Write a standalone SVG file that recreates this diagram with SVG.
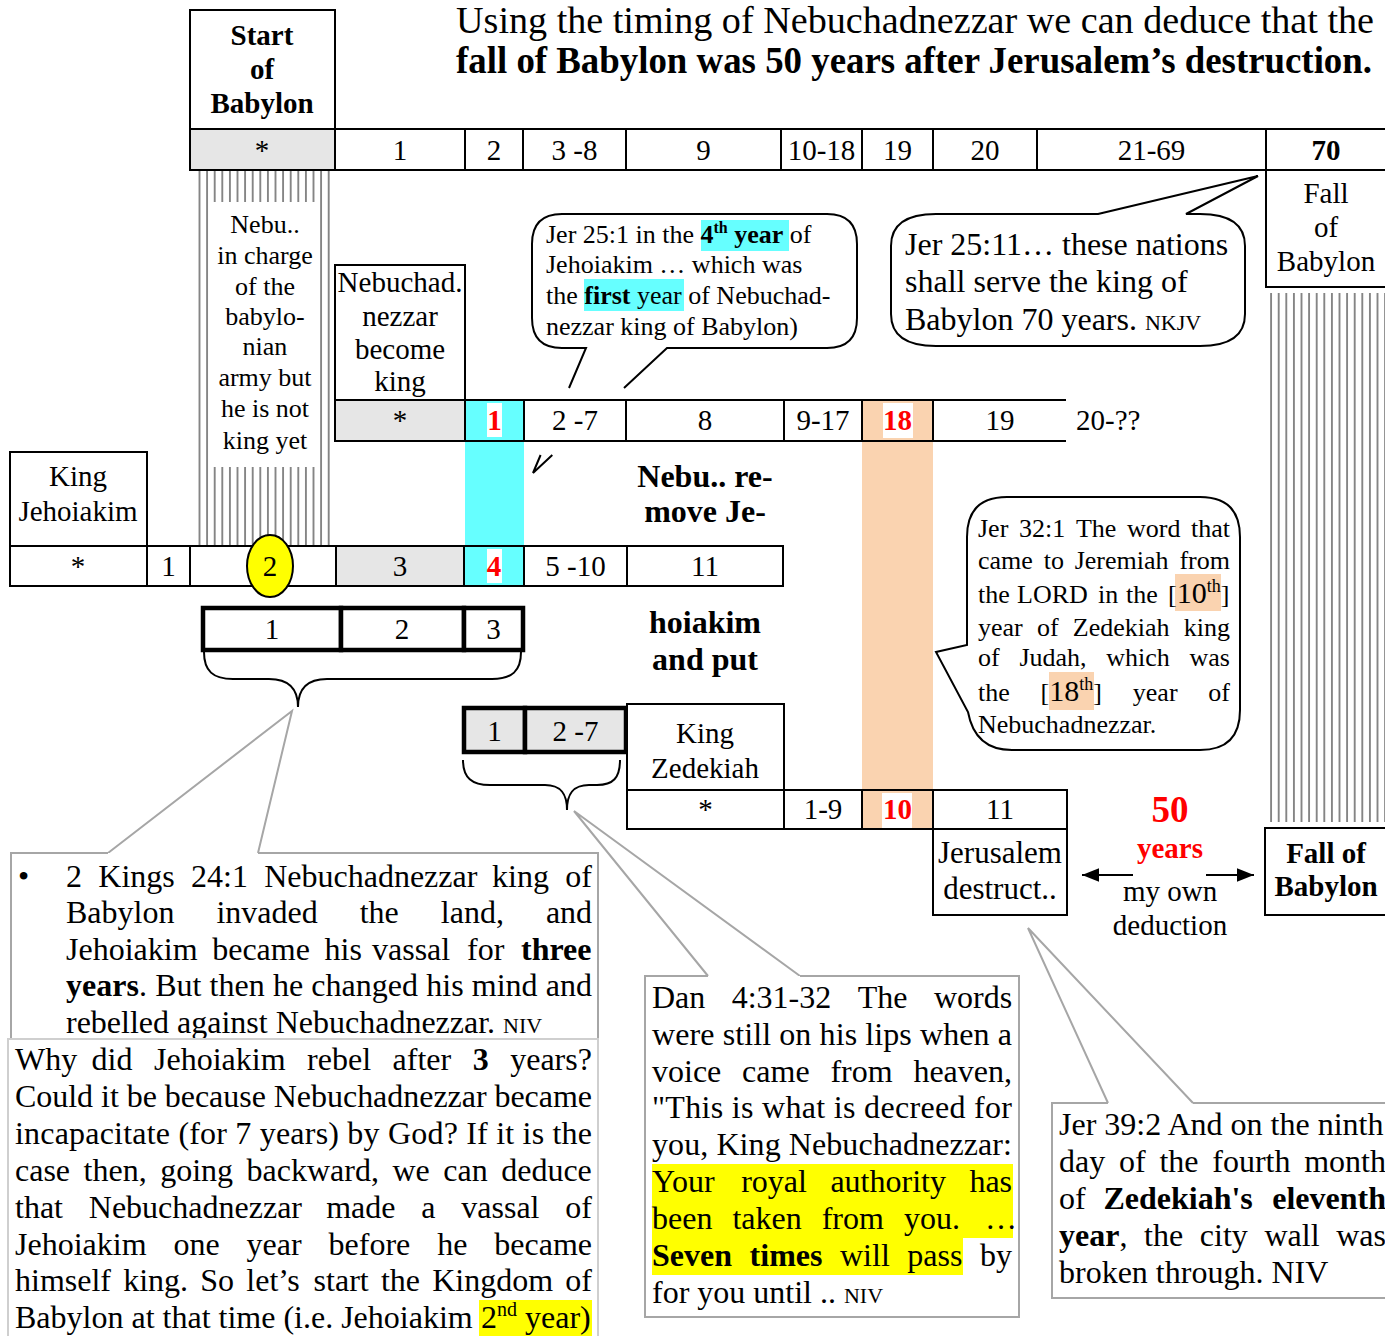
<svg xmlns="http://www.w3.org/2000/svg" width="1385" height="1336" viewBox="0 0 1385 1336">
<defs>
<style>
text{font-family:"Liberation Serif","Times New Roman",serif;fill:#000}
.c{text-anchor:middle}
.n{font-size:29px}
.b{font-weight:bold}
.red{fill:#ff0000;font-weight:bold}
.cell{fill:#fff;stroke:#000;stroke-width:2}
.gray{fill:#e6e6e6;stroke:#000;stroke-width:2}
.cy{fill:#66ffff;stroke:#000;stroke-width:2}
.pe{fill:#fad3b0;stroke:#000;stroke-width:2}
.thick{fill:#fff;stroke:#000;stroke-width:4.5}
.thickg{fill:#e6e6e6;stroke:#000;stroke-width:4.5}
.bx{fill:#fff;stroke:#000;stroke-width:2}
.call{fill:#fff;stroke:#000;stroke-width:2}
.note{fill:#fff;stroke:#a6a6a6;stroke-width:2}
.note2{fill:#fff;stroke:#cfcfcf;stroke-width:2}
.ln{fill:none;stroke:#a6a6a6;stroke-width:2}
.k{fill:none;stroke:#000;stroke-width:2}
.body{font-size:32px}
.sm{font-size:26px}
.wbg{fill:#fff}
</style>
<pattern id="stripe" width="7.6" height="10" patternUnits="userSpaceOnUse"><rect x="1" y="0" width="1.8" height="10" fill="#7f7f7f"/></pattern>
<marker id="ah" viewBox="0 0 10 8" refX="10" refY="4" markerWidth="8.5" markerHeight="6.8" orient="auto"><path d="M0,0 L10,4 L0,8 z" fill="#000"/></marker>
</defs>

<!-- header -->
<g id="title">
<text x="456" y="33" font-size="37" textLength="918" lengthAdjust="spacingAndGlyphs">Using the timing of Nebuchadnezzar we can deduce that the</text>
<text x="456" y="73" font-size="37" class="b" textLength="916" lengthAdjust="spacingAndGlyphs">fall of Babylon was 50 years after Jerusalem’s destruction.</text>
</g>

<!-- backgrounds -->
<g id="columns">
<rect x="196" y="171" width="134" height="375" fill="url(#stripe)"/>
<rect x="212" y="202" width="106" height="265" fill="#fff"/>
<rect x="1270" y="293" width="118" height="529" fill="url(#stripe)"/>
<rect x="465" y="400" width="59" height="186" fill="#66ffff"/>
<rect x="862" y="400" width="71" height="429" fill="#fad3b0"/>
</g>

<g id="connectors">
<path class="ln" d="M108,853 L292,711 L258,853"/>
<path class="ln" d="M708,976 L574,811 L800,976"/>
<path class="ln" d="M1108,1103 L1028,928 L1193,1103"/>
<path class="k" d="M204,652 C204,671 213,679 233,679 L269,679 C289,679 298,689 298,707 C298,689 307,679 327,679 L492,679 C512,679 521,671 521,652"/>
<path class="k" d="M463,760 C463,778 472,785 490,785 L545,785 C562,785 567,795 567,810 C567,795 572,785 589,785 L597,785 C613,785 620,778 620,760"/>
<line class="k" x1="1133" y1="875" x2="1082" y2="875" marker-end="url(#ah)"/>
<line class="k" x1="1206" y1="875" x2="1254" y2="875" marker-end="url(#ah)"/>
</g>

<!-- callouts -->
<g id="callout-jer25-1">
<path class="call" d="M569,388 L586,348 L562,348 Q532,348 532,318 L532,244 Q532,214 562,214 L827,214 Q857,214 857,244 L857,318 Q857,348 827,348 L667,348 L624,388"/>
<path class="k" d="M540.6,455 L533,473 L552.3,455"/>
<rect x="701" y="220" width="88" height="31" fill="#66ffff"/>
<rect x="584" y="279" width="100" height="32" fill="#66ffff"/>
<text class="sm" x="546" y="243">Jer 25:1 in the <tspan class="b">4</tspan><tspan class="b" dy="-10" font-size="16">th</tspan><tspan class="b" dy="10"> year</tspan> of</text>
<text class="sm" x="546" y="273">Jehoiakim …  which was</text>
<text class="sm" x="546" y="304">the <tspan class="b">first</tspan> year of Nebuchad-</text>
<text class="sm" x="546" y="335">nezzar king of Babylon)</text>
</g>

<g id="callout-jer25-11">
<path class="call" d="M1098,214 L1258,176 L1186,214 L1200,214 Q1245,214 1245,246 L1245,314 Q1245,346 1200,346 L936,346 Q891,346 891,314 L891,246 Q891,214 936,214 Z"/>
<text class="body" x="905" y="255">Jer 25:11… these nations</text>
<text class="body" x="905" y="292">shall serve the king of</text>
<text class="body" x="905" y="330">Babylon 70 years. <tspan font-size="22">NKJV</tspan></text>
</g>

<g id="callout-jer32-1">
<path class="call" d="M1007,497 Q967,497 967,537 L967,645 L936,652 L968,712 Q975,750 1012,750 L1200,750 Q1240,750 1240,710 L1240,537 Q1240,497 1200,497 Z"/>
<rect x="1175" y="574" width="46" height="37" fill="#fad3b0"/>
<rect x="1049" y="672" width="45" height="38" fill="#fad3b0"/>
<text class="sm" y="537"><tspan x="978">Jer</tspan><tspan x="1019">32:1</tspan><tspan x="1075.9">The</tspan><tspan x="1127">word</tspan><tspan x="1191.1">that</tspan></text>
<text class="sm" y="569"><tspan x="978">came</tspan><tspan x="1043.7">to</tspan><tspan x="1074.7">Jeremiah</tspan><tspan x="1179.4">from</tspan></text>
<text class="sm" y="603"><tspan x="978">the</tspan><tspan x="1017">LORD</tspan><tspan x="1098">in</tspan><tspan x="1126">the</tspan><tspan x="1168">[</tspan><tspan font-size="30">10</tspan><tspan dy="-11" font-size="18">th</tspan><tspan dy="11">]</tspan></text>
<text class="sm" y="636"><tspan x="978">year</tspan><tspan x="1036.9">of</tspan><tspan x="1072.8">Zedekiah</tspan><tspan x="1183.7">king</tspan></text>
<text class="sm" y="666"><tspan x="978">of</tspan><tspan x="1019.4">Judah,</tspan><tspan x="1106.3">which</tspan><tspan x="1189.5">was</tspan></text>
<text class="sm" y="701"><tspan x="978">the</tspan><tspan x="1040.6">[</tspan><tspan font-size="30">18</tspan><tspan dy="-11" font-size="18">th</tspan><tspan dy="11">]</tspan><tspan x="1132.8">year</tspan><tspan x="1208.3">of</tspan></text>
<text class="sm" x="978" y="733">Nebuchadnezzar.</text>
</g>

<!-- Babylon timeline -->
<g id="start-babylon">
<rect class="bx" x="190" y="10" width="145" height="119"/>
<text class="n b c" x="262" y="45">Start</text>
<text class="n b c" x="262" y="79">of</text>
<text class="n b c" x="262" y="113">Babylon</text>
</g>
<g id="babylon-row">
<rect class="gray" x="190" y="129" width="145" height="41"/>
<rect class="cell" x="335" y="129" width="130" height="41"/>
<rect class="cell" x="465" y="129" width="58" height="41"/>
<rect class="cell" x="523" y="129" width="103" height="41"/>
<rect class="cell" x="626" y="129" width="155" height="41"/>
<rect class="cell" x="781" y="129" width="81" height="41"/>
<rect class="cell" x="862" y="129" width="71" height="41"/>
<rect class="cell" x="933" y="129" width="104" height="41"/>
<rect class="cell" x="1037" y="129" width="229" height="41"/>
<rect class="cell" x="1266" y="129" width="126" height="41"/>
<text class="n c" x="262" y="160">*</text>
<text class="n c" x="400" y="160">1</text>
<text class="n c" x="494" y="160">2</text>
<text class="n c" x="574.5" y="160">3 -8</text>
<text class="n c" x="703.5" y="160">9</text>
<text class="n c" x="821.5" y="160">10-18</text>
<text class="n c" x="897.5" y="160">19</text>
<text class="n c" x="985" y="160">20</text>
<text class="n c" x="1151.5" y="160">21-69</text>
<text class="n c b" x="1326" y="160">70</text>
</g>
<g id="fall-babylon-top">
<rect class="bx" x="1266" y="170" width="126" height="117"/>
<text class="n c" x="1326" y="203">Fall</text>
<text class="n c" x="1326" y="237">of</text>
<text class="n c" x="1326" y="271">Babylon</text>
</g>
<g id="nebu-army">
<text class="sm c" x="265" y="233">Nebu..</text>
<text class="sm c" x="265" y="264">in charge</text>
<text class="sm c" x="265" y="295">of the</text>
<text class="sm c" x="265" y="325">babylo-</text>
<text class="sm c" x="265" y="355">nian</text>
<text class="sm c" x="265" y="386">army but</text>
<text class="sm c" x="265" y="417">he is not</text>
<text class="sm c" x="265" y="449">king yet</text>
</g>

<!-- Nebuchadnezzar row -->
<g id="nebu-king">
<rect class="bx" x="335" y="265" width="130" height="135"/>
<text class="n c" x="400" y="292">Nebuchad.</text>
<text class="n c" x="400" y="326">nezzar</text>
<text class="n c" x="400" y="359">become</text>
<text class="n c" x="400" y="391">king</text>
</g>
<g id="nebu-row">
<rect class="gray" x="335" y="400" width="130" height="41"/>
<rect class="cy" x="465" y="400" width="59" height="41"/>
<rect class="cell" x="524" y="400" width="102" height="41"/>
<rect class="cell" x="626" y="400" width="158" height="41"/>
<rect class="cell" x="784" y="400" width="78" height="41"/>
<rect class="pe" x="862" y="400" width="71" height="41"/>
<path class="k" d="M933,400 L1066,400 M933,441 L1066,441"/>
<rect class="wbg" x="487" y="403" width="15" height="34"/>
<rect class="wbg" x="883" y="403" width="30" height="35"/>
<text class="n c" x="400" y="430">*</text>
<text class="n c red" x="494.5" y="430">1</text>
<text class="n c" x="575" y="430">2 -7</text>
<text class="n c" x="705" y="430">8</text>
<text class="n c" x="823" y="430">9-17</text>
<text class="n c red" x="897.5" y="430">18</text>
<text class="n c" x="1000" y="430">19</text>
<text class="n" x="1076" y="430">20-??</text>
</g>

<!-- Jehoiakim row -->
<g id="king-jehoiakim">
<rect class="bx" x="10" y="452" width="137" height="94"/>
<text class="n c" x="78" y="486">King</text>
<text class="n c" x="78" y="521">Jehoiakim</text>
</g>
<g id="jehoiakim-row">
<rect class="cell" x="10" y="546" width="137" height="40"/>
<rect class="cell" x="147" y="546" width="43" height="40"/>
<rect class="cell" x="190" y="546" width="146" height="40"/>
<rect class="gray" x="336" y="546" width="128" height="40"/>
<rect class="cy" x="464" y="546" width="60" height="40"/>
<rect class="cell" x="524" y="546" width="103" height="40"/>
<rect class="cell" x="627" y="546" width="156" height="40"/>
<ellipse cx="270" cy="566" rx="23" ry="31" fill="#ffff00" stroke="#000" stroke-width="2"/>
<rect class="wbg" x="487" y="549" width="15" height="34"/>
<text class="n c" x="78" y="576">*</text>
<text class="n c" x="168.5" y="576">1</text>
<text class="n c" x="270" y="576">2</text>
<text class="n c" x="400" y="576">3</text>
<text class="n c red" x="494" y="576">4</text>
<text class="n c" x="575.5" y="576">5 -10</text>
<text class="n c" x="705" y="576">11</text>
</g>
<g id="vassal-years">
<rect class="thick" x="203" y="608" width="138" height="42"/>
<rect class="thick" x="341" y="608" width="123" height="42"/>
<rect class="thick" x="464" y="608" width="59" height="42"/>
<text class="n c" x="272" y="639">1</text>
<text class="n c" x="402" y="639">2</text>
<text class="n c" x="493.5" y="639">3</text>
</g>
<g id="nebu-remove">
<text class="b c" font-size="32" x="705" y="487">Nebu.. re-</text>
<text class="b c" font-size="32" x="705" y="522">move Je-</text>
<text class="b c" font-size="32" x="705" y="633">hoiakim</text>
<text class="b c" font-size="32" x="705" y="670">and put</text>
</g>

<!-- Zedekiah -->
<g id="seven-years">
<rect class="thickg" x="464" y="708" width="61" height="44"/>
<rect class="thickg" x="525" y="708" width="101" height="44"/>
<text class="n c" x="494.5" y="741">1</text>
<text class="n c" x="575.5" y="741">2 -7</text>
</g>
<g id="king-zedekiah">
<rect class="bx" x="627" y="704" width="157" height="86"/>
<text class="n c" x="705" y="743">King</text>
<text class="n c" x="705" y="778">Zedekiah</text>
</g>
<g id="zedekiah-row">
<rect class="cell" x="627" y="790" width="157" height="39"/>
<rect class="cell" x="784" y="790" width="78" height="39"/>
<rect class="pe" x="862" y="790" width="71" height="39"/>
<rect class="cell" x="933" y="790" width="134" height="39"/>
<rect class="wbg" x="882" y="793" width="30" height="35"/>
<text class="n c" x="705.5" y="819">*</text>
<text class="n c" x="823" y="819">1-9</text>
<text class="n c red" x="897.5" y="819">10</text>
<text class="n c" x="1000" y="819">11</text>
</g>
<g id="jerusalem">
<rect class="bx" x="933" y="829" width="134" height="86"/>
<text class="c" font-size="31" x="1000" y="863">Jerusalem</text>
<text class="c" font-size="31" x="1000" y="899">destruct..</text>
</g>
<g id="fifty-years">
<text class="c red" font-size="37" x="1170" y="822">50</text>
<text class="c red" font-size="29" x="1170" y="858">years</text>
<text class="n c" x="1170" y="901">my own</text>
<text class="n c" x="1170" y="935">deduction</text>
</g>
<g id="fall-babylon">
<rect class="bx" x="1265" y="828" width="127" height="87"/>
<text class="n c b" x="1326" y="863">Fall of</text>
<text class="n c b" x="1326" y="896">Babylon</text>
</g>

<!-- notes -->
<g id="note-2kings">
<path class="note" d="M108,853 L11,853 L11,1040 L598,1040 L598,853 L258,853"/>
<text class="body" x="18" y="887">•</text>
<text class="body" y="887"><tspan x="66">2</tspan><tspan x="98.3">Kings</tspan><tspan x="191">24:1</tspan><tspan x="264.2">Nebuchadnezzar</tspan><tspan x="492.1">king</tspan><tspan x="565.3">of</tspan></text>
<text class="body" y="923"><tspan x="66">Babylon</tspan><tspan x="216.4">invaded</tspan><tspan x="359.7">the</tspan><tspan x="440.8">land,</tspan><tspan x="545.9">and</tspan></text>
<text class="body" y="960"><tspan x="66">Jehoiakim</tspan><tspan x="212.2">became</tspan><tspan x="324.5">his</tspan><tspan x="372">vassal</tspan><tspan x="467">for</tspan><tspan x="521" class="b">three</tspan></text>
<text class="body" x="66" y="996" textLength="526" lengthAdjust="spacing"><tspan class="b">years</tspan>. But then he changed his mind and</text>
<text class="body" x="66" y="1033">rebelled against Nebuchadnezzar. <tspan font-size="22">NIV</tspan></text>
</g>
<g id="note-why">
<rect class="note2" x="8" y="1039" width="590" height="310"/>
<rect x="479" y="1300" width="113" height="36" fill="#ffff00"/>
<text class="body" y="1070"><tspan x="15">Why</tspan><tspan x="91.6">did</tspan><tspan x="154">Jehoiakim</tspan><tspan x="307.1">rebel</tspan><tspan x="392.6">after</tspan><tspan x="472.7" class="b">3</tspan><tspan x="510.2">years?</tspan></text>
<text class="body" x="15" y="1107" textLength="577" lengthAdjust="spacing">Could it be because Nebuchadnezzar became</text>
<text class="body" x="15" y="1144" textLength="577" lengthAdjust="spacing">incapacitate (for 7 years) by God? If it is the</text>
<text class="body" y="1181"><tspan x="15">case</tspan><tspan x="83.6">then,</tspan><tspan x="160.2">going</tspan><tspan x="246.6">backward,</tspan><tspan x="392.5">we</tspan><tspan x="443.3">can</tspan><tspan x="501.2">deduce</tspan></text>
<text class="body" y="1218"><tspan x="15">that</tspan><tspan x="88.8">Nebuchadnezzar</tspan><tspan x="326.2">made</tspan><tspan x="421.3">a</tspan><tspan x="461.3">vassal</tspan><tspan x="565.3">of</tspan></text>
<text class="body" y="1255"><tspan x="15">Jehoiakim</tspan><tspan x="173.5">one</tspan><tspan x="246.6">year</tspan><tspan x="328.6">before</tspan><tspan x="437.2">he</tspan><tspan x="494.3">became</tspan></text>
<text class="body" y="1291"><tspan x="15">himself</tspan><tspan x="123.2">king.</tspan><tspan x="200.3">So</tspan><tspan x="246.3">let’s</tspan><tspan x="313.6">start</tspan><tspan x="380.9">the</tspan><tspan x="432.2">Kingdom</tspan><tspan x="565.3">of</tspan></text>
<text class="body" x="15" y="1328">Babylon at that time (i.e. Jehoiakim <tspan x="481">2</tspan><tspan dy="-12" font-size="20">nd</tspan><tspan dy="12"> year)</tspan></text>
</g>
<g id="note-dan">
<path class="note" d="M708,976 L645,976 L645,1317 L1019,1317 L1019,976 L800,976"/>
<rect x="652" y="1164" width="361" height="74" fill="#ffff00"/>
<rect x="652" y="1238" width="311" height="37" fill="#ffff00"/>
<text class="body" y="1008"><tspan x="652">Dan</tspan><tspan x="731.7">4:31-32</tspan><tspan x="857.7">The</tspan><tspan x="933.9">words</tspan></text>
<text class="body" x="652" y="1045" textLength="360" lengthAdjust="spacing">were still on his lips when a</text>
<text class="body" y="1082"><tspan x="652">voice</tspan><tspan x="742.1">came</tspan><tspan x="830.4">from</tspan><tspan x="913.4">heaven,</tspan></text>
<text class="body" x="652" y="1118" textLength="360" lengthAdjust="spacing">"This is what is decreed for</text>
<text class="body" x="652" y="1155" textLength="360" lengthAdjust="spacing">you, King Nebuchadnezzar:</text>
<text class="body" y="1192"><tspan x="652">Your</tspan><tspan x="741.2">royal</tspan><tspan x="830.4">authority</tspan><tspan x="969.4">has</tspan></text>
<text class="body" y="1229"><tspan x="652">been</tspan><tspan x="732.4">taken</tspan><tspan x="821.7">from</tspan><tspan x="903.9">you.</tspan><tspan x="985">…</tspan></text>
<text class="body" y="1266"><tspan x="652" class="b">Seven</tspan><tspan x="749.6" class="b">times</tspan><tspan x="840">will</tspan><tspan x="907.3">pass</tspan><tspan x="980">by</tspan></text>
<text class="body" x="652" y="1303">for you until .. <tspan font-size="22">NIV</tspan></text>
</g>
<g id="note-jer39">
<path class="note" d="M1108,1103 L1052,1103 L1052,1298 L1392,1298 M1392,1103 L1193,1103"/>
<text class="body" x="1059" y="1135">Jer 39:2 And on the ninth</text>
<text class="body" y="1172"><tspan x="1059">day</tspan><tspan x="1119">of</tspan><tspan x="1159.4">the</tspan><tspan x="1212.3">fourth</tspan><tspan x="1304.2">month</tspan></text>
<text class="body" y="1209"><tspan x="1059">of</tspan><tspan x="1103.4" class="b">Zedekiah's</tspan><tspan x="1272.2" class="b">eleventh</tspan></text>
<text class="body" y="1246"><tspan x="1059" class="b">year</tspan>,<tspan x="1144.1">the</tspan><tspan x="1199.8">city</tspan><tspan x="1264.5">wall</tspan><tspan x="1336.2">was</tspan></text>
<text class="body" x="1059" y="1283">broken through. NIV</text>
</g>
</svg>
